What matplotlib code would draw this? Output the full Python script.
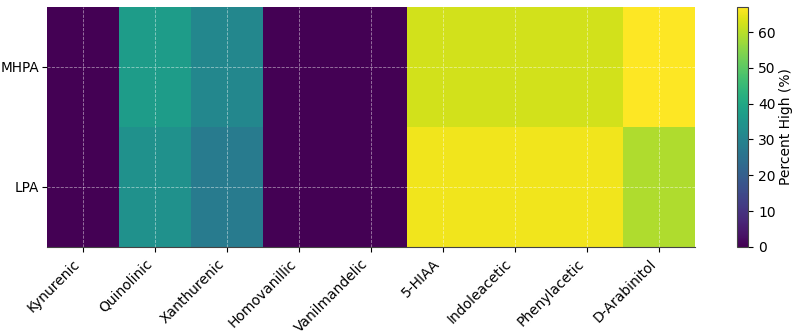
import numpy as np
import matplotlib.pyplot as plt

metabolites = ['Kynurenic', 'Quinolinic', 'Xanthurenic', 'Homovanillic', 'Vanilmandelic',
               '5-HIAA', 'Indoleacetic', 'Phenylacetic', 'D-Arabinitol']
groups = ['MHPA', 'LPA']
mhpa = [0, 37, 31, 0, 0, 62.5, 62.5, 62.5, 67]
lpa = [0, 34, 28, 0, 0, 65.5, 65.5, 65.5, 59]

data = np.array([mhpa, lpa])

fig = plt.figure(figsize=(7.92, 3.35), dpi=100)
ax = fig.add_axes([0.059, 0.263, 0.818, 0.716])
cax = fig.add_axes([0.930, 0.263, 0.015, 0.716])

im = ax.imshow(data, cmap='viridis', aspect='auto', vmin=0, vmax=data.max())
ax.set_xticks(range(len(metabolites)))
ax.set_xticklabels(metabolites, rotation=45, ha='right', fontsize=10)
ax.set_yticks(range(len(groups)))
ax.set_yticklabels(groups, fontsize=9.8)
ax.tick_params(axis='y', pad=2)
ax.grid(True, color='white', linestyle='--', linewidth=0.6, alpha=0.5)
for s in ['top', 'left', 'right']:
    ax.spines[s].set_visible(False)
ax.spines['bottom'].set_color('#444444')

cb = fig.colorbar(im, cax=cax)
cb.set_label('Percent High (%)', fontsize=10, labelpad=2)
cb.ax.tick_params(labelsize=10)
cb.outline.set_edgecolor('#444444')

fig.savefig('out.png')
